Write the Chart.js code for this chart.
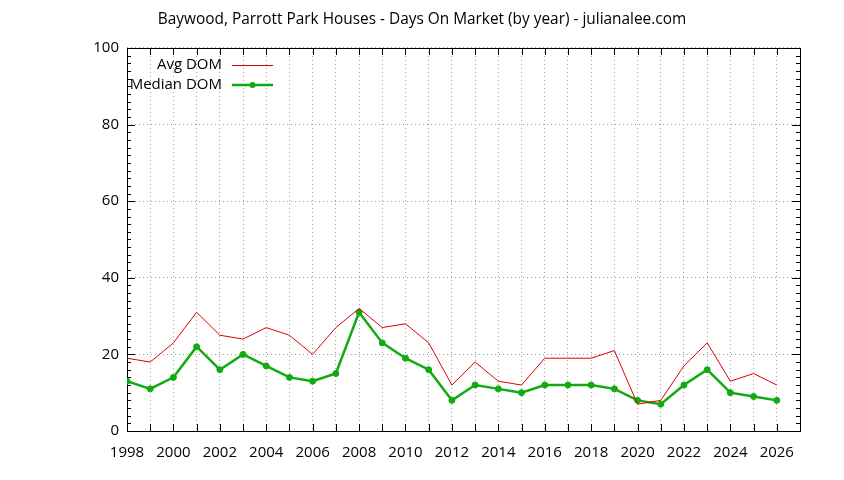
<!DOCTYPE html>
<html>
<head>
<meta charset="utf-8">
<title>Baywood, Parrott Park Houses - Days On Market</title>
<script src="https://cdn.jsdelivr.net/npm/chart.js@4.4.1/dist/chart.umd.min.js"></script>
<style>
  html, body { margin: 0; padding: 0; background: #fff; }
  #wrap { width: 844px; height: 480px; }
</style>
</head>
<body>
<div id="wrap"><canvas id="dom"></canvas></div>
<script>
const years = [1998, 1999, 2000, 2001, 2002, 2003, 2004, 2005, 2006, 2007,
  2008, 2009, 2010, 2011, 2012, 2013, 2014, 2015, 2016, 2017,
  2018, 2019, 2020, 2021, 2022, 2023, 2024, 2025, 2026];
const avgDom = [19, 18, 23, 31, 25, 24, 27, 25, 20, 27,
  32, 27, 28, 23, 12, 18, 13, 12, 19, 19,
  19, 21, 7, 8, 17, 23, 13, 15, 12];
const medianDom = [13, 11, 14, 22, 16, 20, 17, 14, 13, 15,
  31, 23, 19, 16, 8, 12, 11, 10, 12, 12,
  12, 11, 8, 7, 12, 16, 10, 9, 8];
const yTicks = [0, 20, 40, 60, 80, 100];

const FONT = '"Open Sans", "DejaVu Sans", sans-serif';
const RED = '#dd0000';
const GREEN = '#11aa11';

// frame, inward ticks and the key, gnuplot style
const frame = {
  id: 'frame',
  beforeDatasetsDraw(chart) {
    const { ctx, chartArea: a, scales: { x, y } } = chart;
    ctx.save();
    ctx.strokeStyle = '#000';
    ctx.lineWidth = 1;
    ctx.beginPath();
    for (let yr = 1998; yr <= 2026; yr++) {
      const px = Math.round(x.getPixelForValue(yr)) + 0.5;
      ctx.moveTo(px, a.bottom); ctx.lineTo(px, a.bottom - 7);
      ctx.moveTo(px, a.top); ctx.lineTo(px, a.top + 7);
    }
    for (let v = 0; v <= 100; v += 2) {
      const len = v % 20 === 0 ? 8 : 4;
      const py = Math.round(y.getPixelForValue(v)) + 0.5;
      ctx.moveTo(a.left, py); ctx.lineTo(a.left + len, py);
      ctx.moveTo(a.right, py); ctx.lineTo(a.right - len, py);
    }
    ctx.stroke();
    ctx.strokeRect(Math.round(a.left) + 0.5, Math.round(a.top) + 0.5,
      Math.round(a.right - a.left), Math.round(a.bottom - a.top));
    ctx.restore();
  },
  afterDraw(chart) {
    const { ctx } = chart;
    ctx.save();
    ctx.font = '15px ' + FONT;
    ctx.fillStyle = '#000';
    ctx.textAlign = 'right';
    ctx.textBaseline = 'middle';
    ctx.fillText(chart.data.datasets[0].label, 222, 65);
    ctx.fillText(chart.data.datasets[1].label, 222, 85);
    ctx.strokeStyle = RED;
    ctx.lineWidth = 1;
    ctx.beginPath(); ctx.moveTo(232, 65.5); ctx.lineTo(273, 65.5); ctx.stroke();
    ctx.strokeStyle = GREEN;
    ctx.lineWidth = 2.5;
    ctx.beginPath(); ctx.moveTo(232, 85); ctx.lineTo(273, 85); ctx.stroke();
    ctx.fillStyle = GREEN;
    ctx.beginPath(); ctx.arc(252.5, 85, 3, 0, Math.PI * 2); ctx.fill();
    ctx.restore();
  }
};

const gridStyle = { color: '#a0a0a0', drawTicks: false };
const borderStyle = { display: false, dash: [1, 3] };

new Chart(document.getElementById('dom'), {
  type: 'line',
  data: {
    datasets: [
      {
        label: 'Avg DOM',
        data: years.map((yr, i) => ({ x: yr, y: avgDom[i] })),
        borderColor: RED,
        borderWidth: 1,
        pointRadius: 0,
        tension: 0,
      },
      {
        label: 'Median DOM',
        data: years.map((yr, i) => ({ x: yr, y: medianDom[i] })),
        borderColor: GREEN,
        backgroundColor: GREEN,
        borderWidth: 2.5,
        pointRadius: 3,
        pointBorderWidth: 1,
        tension: 0,
      },
    ],
  },
  options: {
    responsive: true,
    maintainAspectRatio: false,
    animation: false,
    layout: { padding: 0 },
    plugins: {
      legend: { display: false },
      tooltip: { enabled: false },
      title: {
        display: true,
        text: 'Baywood, Parrott Park Houses - Days On Market (by year) - julianalee.com',
        color: '#000',
        font: { family: FONT, size: 15.4, weight: 'normal' },
        padding: { top: 10, bottom: 19.5 },
      },
    },
    scales: {
      x: {
        type: 'linear',
        min: 1998,
        max: 2027,
        afterFit(s) { s.height = 49; },
        border: borderStyle,
        grid: gridStyle,
        ticks: {
          stepSize: 1,
          autoSkip: false,
          maxRotation: 0,
          padding: 13,
          color: '#000',
          font: { family: FONT, size: 15 },
          callback: (v) => (v % 2 === 0 && v <= 2026 ? String(v) : ''),
        },
      },
      y: {
        min: 0,
        max: 100,
        afterFit(s) { s.width = 127; },
        afterBuildTicks(s) { s.ticks = yTicks.map((v) => ({ value: v })); },
        border: borderStyle,
        grid: gridStyle,
        ticks: {
          padding: 8,
          color: '#000',
          font: { family: FONT, size: 15 },
        },
      },
      // empty right-hand axis, only keeps the 44px margin so the title stays centred on the page
      yRight: {
        position: 'right',
        min: 0,
        max: 100,
        afterFit(s) { s.width = 44; },
        border: { display: false },
        grid: { display: false },
        ticks: { display: false },
      },
    },
  },
  plugins: [frame],
});
</script>
</body>
</html>
